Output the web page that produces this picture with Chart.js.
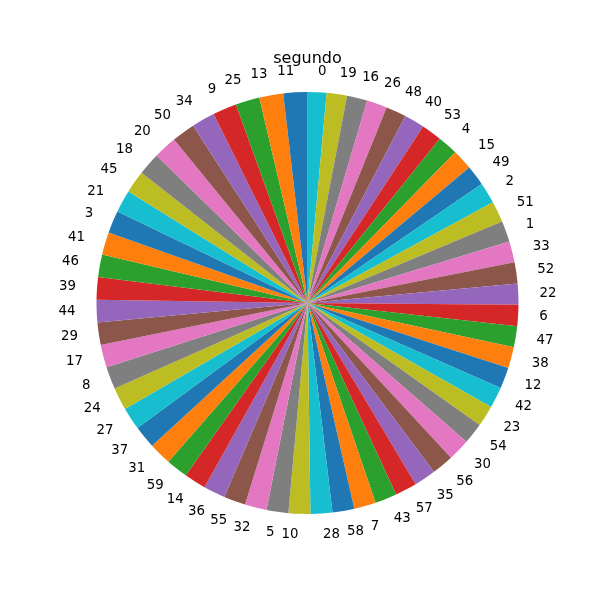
<!DOCTYPE html>
<html>
<head>
<meta charset="utf-8">
<script src="https://cdn.jsdelivr.net/npm/chart.js@4/dist/chart.umd.min.js"></script>
<style>
html,body{margin:0;padding:0;background:#fff;}
#wrap{width:600px;height:600px;}
</style>
</head>
<body>
<div id="wrap"><canvas id="c" width="600" height="600"></canvas></div>
<script>
// Slice categories in drawing order (counter-clockwise from the top, as in the reference)
const categories = [11,13,25,9,34,50,20,18,45,21,3,41,46,39,44,29,17,8,24,27,37,31,59,14,36,55,32,5,10,28,58,7,43,57,35,56,30,54,23,42,12,38,47,6,22,52,33,1,51,2,49,15,4,53,40,48,26,16,19,0];
// Estimated counts per category (sorted descending)
const counts = [33,33,33,33,32,32,32,31,31,31,31,31,31,31,31,31,31,31,31,31,31,31,30,30,30,30,30,30,30,30,30,30,30,30,30,30,30,29,29,29,29,29,29,29,29,29,29,29,29,29,28,28,28,28,28,28,28,28,28,26];
const chartTitle = 'segundo';
const palette = ['#1f77b4','#ff7f0e','#2ca02c','#d62728','#9467bd','#8c564b','#e377c2','#7f7f7f','#bcbd22','#17becf'];

const colors = categories.map((_, i) => palette[i % palette.length]);
// Chart.js draws clockwise; reverse so the result runs counter-clockwise from the top
const labelsR = categories.slice().reverse().map(String);
const valuesR = counts.slice().reverse();
const colorsR = colors.slice().reverse();

const FONT = '"DejaVu Sans", sans-serif';

const outsideLabels = {
  id: 'outsideLabels',
  afterDatasetsDraw(chart) {
    const ctx = chart.ctx;
    const meta = chart.getDatasetMeta(0);
    ctx.save();
    ctx.fillStyle = '#000';
    ctx.font = '13.33px ' + FONT;
    ctx.textBaseline = 'middle';
    meta.data.forEach((arc, i) => {
      const mid = (arc.startAngle + arc.endAngle) / 2;
      const rr = arc.outerRadius * 1.1;
      const x = arc.x + rr * Math.cos(mid);
      const y = arc.y + rr * Math.sin(mid);
      ctx.textAlign = Math.cos(mid) > 0 ? 'left' : 'right';
      ctx.fillText(chart.data.labels[i], x, y);
    });
    // title
    ctx.font = '16px ' + FONT;
    ctx.textAlign = 'center';
    ctx.textBaseline = 'alphabetic';
    const a = meta.data[0];
    ctx.fillText(chartTitle, a.x, 62.5);
    ctx.restore();
  }
};

new Chart(document.getElementById('c'), {
  type: 'pie',
  data: {
    labels: labelsR,
    datasets: [{
      data: valuesR,
      backgroundColor: colorsR,
      borderWidth: 0,
      hoverOffset: 0
    }]
  },
  options: {
    responsive: false,
    animation: false,
    events: [],
    layout: { padding: { left: 96.5, right: 81.5, top: 92, bottom: 86 } },
    plugins: {
      legend: { display: false },
      title: { display: false },
      tooltip: { enabled: false }
    }
  },
  plugins: [outsideLabels]
});
</script>
</body>
</html>
